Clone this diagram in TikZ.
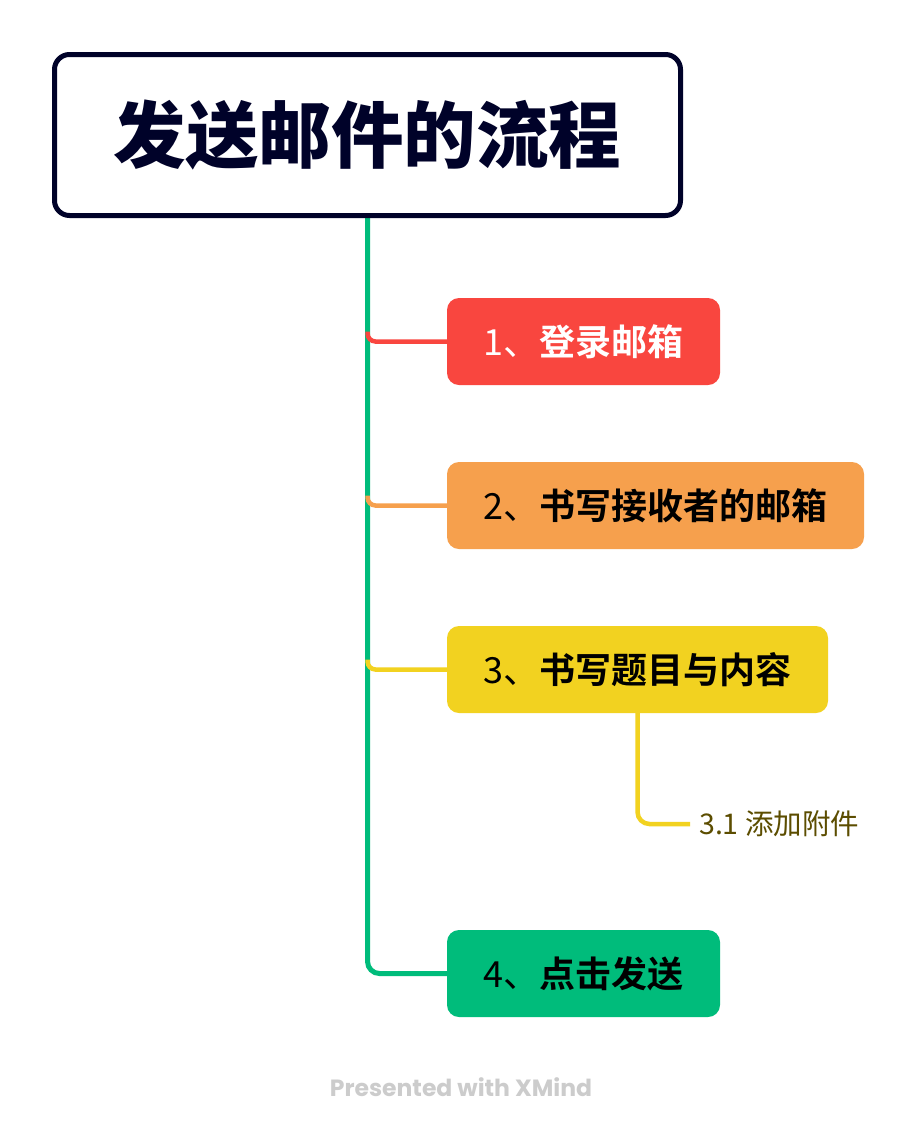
\documentclass[tikz,border=0pt]{standalone}
\usepackage{fontspec}
\setmainfont{Noto Sans CJK SC}
\newfontfamily\cjk{Noto Sans CJK SC}[BoldFont={Noto Sans CJK SC Bold}]
\newfontfamily\cjkblack{Noto Sans CJK SC Black}
\newfontfamily\footfont{Poppins}
\usetikzlibrary{calc}
\usetikzlibrary{backgrounds}
\definecolor{titleborder}{HTML}{000229}
\definecolor{topicred}{HTML}{F9463F}
\definecolor{topicorange}{HTML}{F6A04D}
\definecolor{topicyellow}{HTML}{F2D220}
\definecolor{topicgreen}{HTML}{00BC7B}
\definecolor{subtext}{HTML}{5C4D00}
\definecolor{footgray}{HTML}{CCCCCC}
\tikzset{
	topic/.style={rounded corners=12pt, minimum height=87pt, inner sep=0pt,
		font=\cjk\fontsize{36}{42}\selectfont},
	branch/.style={line width=4.5pt, rounded corners=8pt}
}

\begin{document}
\begin{tikzpicture}[x=1pt,y=-1pt]
	\useasboundingbox (0,0) rectangle (922,1138);
	% central topic
	\node (title) [draw=titleborder, text=titleborder, line width=5pt, fill=white, rounded corners=15pt,
		minimum width=626pt, minimum height=161pt, inner sep=0pt]
		at (367.5,135) {\cjkblack\fontsize{72.5}{80}\selectfont 发送邮件的流程};
	% main topics
	\node (login) [topic, fill=topicred, text=white, minimum width=273pt] at (583.5,341.5)
		{1、\bfseries 登录邮箱};
	\node (receiver) [topic, fill=topicorange, minimum width=417pt] at (655.5,505.5)
		{2、\bfseries 书写接收者的邮箱};
	\node (content) [topic, fill=topicyellow, minimum width=381pt] at (637.5,669.5)
		{3、\bfseries 书写题目与内容};
	\node (send) [topic, fill=topicgreen, minimum width=273pt] at (583.5,973.5)
		{4、\bfseries 点击发送};
	% subtopic
	\node (attach) [anchor=west, inner sep=0pt, inner xsep=9pt, text=subtext,
		font=\cjk\fontsize{28.5}{32}\selectfont] at (690,824) {3.1 添加附件};
	\node (footer) [text=footgray, font=\footfont\bfseries\fontsize{23.5}{28}\selectfont]
		at (461,1087) {Presented with XMind};

	\begin{scope}[on background layer]
		\fill [white] (0,0) rectangle (922,1138);
		\draw [topicgreen, line width=5pt, rounded corners=12pt] (title.south) |- (send.west);
		\draw [topicred, branch] ($(title.south |- login.west)+(0,-10)$) |- (login.west);
		\draw [topicorange, branch] ($(title.south |- receiver.west)+(0,-10)$) |- (receiver.west);
		\draw [topicyellow, branch] ($(title.south |- content.west)+(0,-10)$) |- (content.west);
		\draw [topicyellow, branch, rounded corners=12pt] (content.south) |- (attach.west);
	\end{scope}
\end{tikzpicture}
\end{document}
